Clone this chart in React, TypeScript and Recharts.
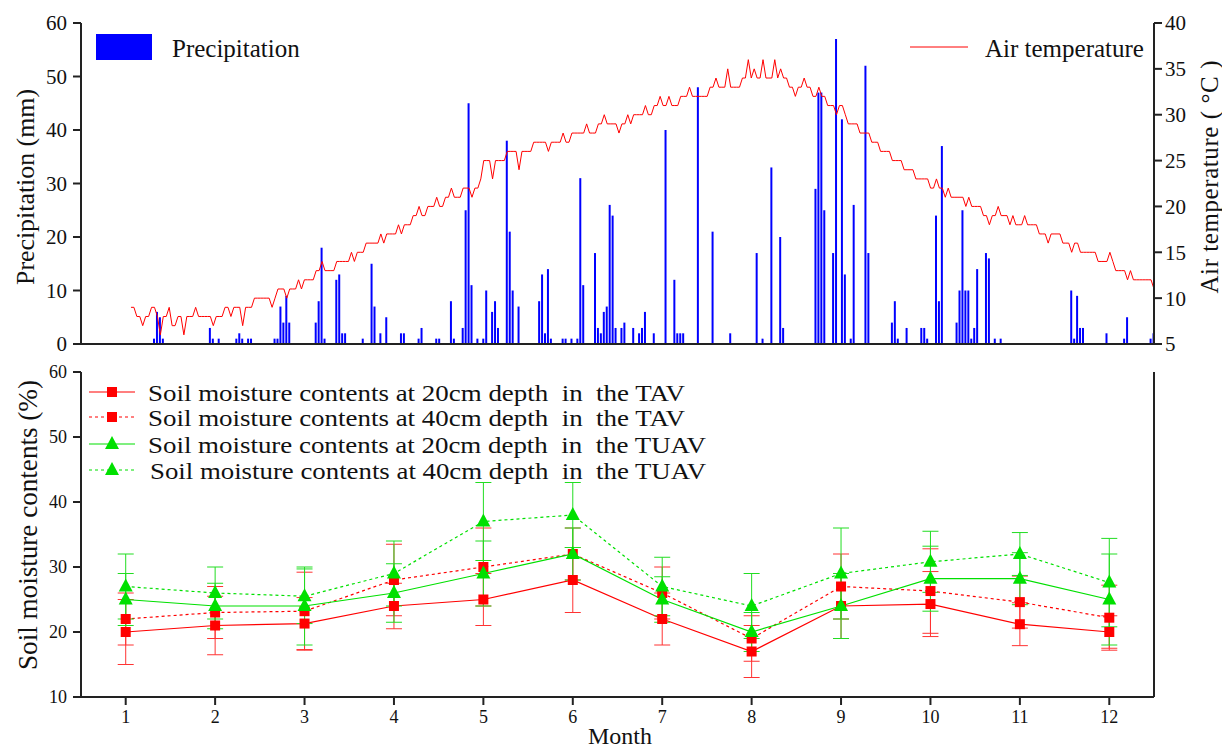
import React from 'react';
import { ComposedChart, Bar, Line, XAxis, YAxis, Legend, ErrorBar } from 'recharts';

const FONT = '"Liberation Serif", "Times New Roman", serif';
const AXIS = '#222';

// ---------- Top panel data ----------
const tempStartDay = 17;
const airTemp = [
  9, 9, 8, 8, 7, 8, 8, 9, 9, 8,
  6, 8, 8, 9, 7, 7, 8, 8, 6, 8,
  8, 8, 9, 8, 8, 8, 8, 8, 7, 8,
  8, 8, 9, 9, 8, 9, 9, 9, 7, 9,
  9, 9, 10, 10, 10, 10, 10, 10, 9, 10,
  11, 11, 11, 10, 11, 11, 11, 12, 11, 12,
  12, 12, 12, 13, 13, 14, 13, 13, 13, 13,
  14, 14, 14, 14, 14, 15, 14, 15, 15, 15,
  16, 16, 16, 16, 16, 17, 16, 17, 17, 17,
  17, 18, 17, 18, 18, 18, 19, 19, 20, 19,
  19, 20, 20, 20, 21, 20, 20, 21, 21, 22,
  21, 21, 21, 22, 22, 22, 21, 22, 22, 23,
  25, 25, 25, 23, 25, 25, 25, 25, 26, 26,
  26, 26, 24, 26, 26, 26, 26, 27, 27, 27,
  27, 27, 26, 27, 27, 27, 27, 28, 27, 27,
  28, 28, 28, 28, 28, 29, 28, 28, 28, 29,
  29, 30, 29, 29, 29, 29, 28, 29, 29, 30,
  29, 30, 30, 30, 30, 31, 30, 30, 31, 31,
  32, 31, 31, 32, 31, 31, 31, 32, 32, 32,
  33, 32, 32, 32, 32, 32, 32, 33, 33, 34,
  33, 33, 33, 35, 33, 33, 33, 33, 34, 34,
  36, 34, 35, 34, 34, 36, 34, 34, 34, 36,
  34, 35, 34, 34, 33, 33, 32, 33, 33, 34,
  33, 33, 32, 32, 33, 32, 32, 31, 31, 31,
  30, 31, 31, 30, 29, 29, 29, 29, 28, 28,
  28, 28, 27, 27, 27, 26, 26, 26, 26, 25,
  25, 25, 25, 24, 24, 24, 24, 23, 23, 23,
  23, 23, 22, 22, 23, 22, 22, 21, 22, 21,
  21, 21, 21, 21, 20, 21, 20, 20, 20, 20,
  19, 19, 18, 19, 19, 20, 19, 19, 19, 18,
  19, 18, 18, 18, 19, 18, 18, 18, 18, 17,
  17, 17, 16, 17, 17, 17, 17, 16, 16, 16,
  15, 16, 16, 15, 15, 15, 15, 15, 15, 14,
  14, 14, 14, 15, 14, 13, 13, 13, 13, 12,
  13, 12, 12, 12, 12, 12, 12, 12, 11,
];

const precipDays = [
  25, 26, 27, 28, 44, 45, 47, 53, 54, 55, 57, 58, 66, 67, 68, 69, 70, 71,
  80, 81, 82, 83, 87, 88, 89, 90, 96, 99, 100, 102, 104, 109, 110, 115, 116,
  121, 122, 126, 127, 130, 131, 132, 133, 135, 137, 138, 140, 141, 142,
  145, 146, 147, 149, 156, 157, 158, 159, 160, 164, 165, 167, 169, 170, 171,
  175, 176, 177, 178, 179, 180, 181, 182, 184, 185, 188, 190, 191, 192, 195,
  199, 202, 203, 204, 205, 210, 215, 221, 230, 232, 235, 238, 239,
  250, 251, 252, 253, 256, 257, 259, 260, 262, 263, 267, 268,
  276, 277, 278, 281, 286, 287, 288, 291, 292, 293,
  298, 299, 300, 301, 302, 303, 304, 305, 308, 309, 311, 313,
  337, 338, 339, 340, 341, 349, 355, 356, 364, 365,
];
const precipMm = [
  1, 6, 5, 1, 3, 1, 1, 1, 2, 1, 1, 1, 1, 1, 7, 4, 9, 4,
  4, 8, 18, 1, 12, 13, 2, 2, 1, 15, 7, 2, 5, 2, 2, 1, 3,
  1, 1, 8, 1, 3, 25, 45, 11, 1, 1, 10, 6, 8, 3,
  38, 21, 10, 7, 8, 13, 2, 14, 1, 1, 1, 1, 1, 31, 11,
  17, 3, 2, 6, 7, 26, 24, 3, 3, 4, 3, 2, 3, 6, 2,
  40, 12, 2, 2, 2, 48, 21, 2, 17, 1, 33, 20, 3,
  29, 47, 47, 25, 17, 57, 42, 13, 1, 26, 52, 17,
  4, 8, 1, 3, 3, 3, 1, 24, 8, 37,
  4, 10, 25, 10, 10, 1, 3, 14, 17, 16, 1, 1,
  10, 1, 9, 3, 3, 2, 1, 5, 1, 2,
];

const monthTickDays = [15.2, 45.6, 76.0, 106.5, 136.9, 167.3, 197.7, 228.1, 258.5, 288.9, 319.4, 349.8];
const precipTicks = [0, 10, 20, 30, 40, 50, 60];
const tempTicks = [5, 10, 15, 20, 25, 30, 35, 40];

const topData = Array.from({ length: 365 }, (_, i) => {
  const day = i + 1;
  const pi = precipDays.indexOf(day);
  const ti = day - tempStartDay;
  return {
    day,
    precip: pi >= 0 ? precipMm[pi] : 0,
    temp: ti >= 0 && ti < airTemp.length ? airTemp[ti] : null,
  };
});

// ---------- Bottom panel data ----------
const months = [1, 2, 3, 4, 5, 6, 7, 8, 9, 10, 11, 12];
const tav20 = [20, 21, 21.3, 24, 25, 28, 22, 17, 24, 24.3, 21.2, 20];
const tav20Err = [5, 4.5, 4, 3.5, 4, 5, 4, 4, 5, 5, 3.3, 2.5];
const tav40 = [22, 23, 23.2, 28, 30, 32, 26, 19, 27, 26.3, 24.6, 22.2];
const tav40Err = [4, 4, 6, 5.5, 6, 4, 4, 3.5, 5, 6.5, 4, 5];
const tuav20 = [25, 24, 24, 26, 29, 32, 25, 20, 24, 28.2, 28.2, 25];
const tuav20Err = [4, 3.5, 6, 4.5, 5, 4, 3.5, 3, 5, 5, 4, 7];
const tuav40 = [27, 26, 25.5, 29, 37, 38, 27, 24, 29, 30.8, 32, 27.6];
const tuav40Err = [5, 4, 4.2, 5, 6, 5, 4.5, 5, 7, 4.7, 3.3, 6.8];
const moistureTicks = [10, 20, 30, 40, 50, 60];
const legendLabels = [
  'Soil moisture contents at 20cm depth  in  the TAV',
  'Soil moisture contents at 40cm depth  in  the TAV',
  'Soil moisture contents at 20cm depth  in  the TUAV',
  'Soil moisture contents at 40cm depth  in  the TUAV',
];

const bottomData = months.map((m, i) => ({
  month: m,
  tav20: tav20[i], tav20e: tav20Err[i],
  tav40: tav40[i], tav40e: tav40Err[i],
  tuav20: tuav20[i], tuav20e: tuav20Err[i],
  tuav40: tuav40[i], tuav40e: tuav40Err[i],
}));

const RED = '#ff0000';
const GREEN = '#00e000';

const squareDot = (color: string) => (props: any) => {
  const { cx, cy, index } = props;
  if (cx == null || cy == null) return <g key={`s${index}`} />;
  return <rect key={`s${index}`} x={cx - 5} y={cy - 5} width={10} height={10} fill={color} />;
};
const triDot = (color: string) => (props: any) => {
  const { cx, cy, index } = props;
  if (cx == null || cy == null) return <g key={`t${index}`} />;
  return (
    <polygon
      key={`t${index}`}
      points={`${cx},${cy - 8} ${cx - 7},${cy + 5} ${cx + 7},${cy + 5}`}
      fill={color}
    />
  );
};

const topTickStyle = { fontSize: 21, fill: '#111', fontFamily: FONT };
const bottomTickStyle = { fontSize: 18, fill: '#111', fontFamily: FONT };
const axisLineStyle = { stroke: AXIS, strokeWidth: 2 };

const TopLegend = () => (
  <svg width={1070} height={30} style={{ overflow: 'visible', display: 'block' }}>
    <rect x={0} y={0} width={56} height={26} fill="#0000ff" />
    <text x={76} y={14} dominantBaseline="central" fontSize={25} fontFamily={FONT} fill="#111">
      Precipitation
    </text>
    <line x1={814} x2={872} y1={13} y2={13} stroke={RED} strokeWidth={1} />
    <text x={889} y={14} dominantBaseline="central" fontSize={25} fontFamily={FONT} fill="#111">
      Air temperature
    </text>
  </svg>
);

const legendRows = [
  { y: 14, color: RED, dash: undefined, shape: 'sq', tx: 59, len: 537 },
  { y: 39, color: RED, dash: '3 3', shape: 'sq', tx: 59, len: 537 },
  { y: 66, color: GREEN, dash: undefined, shape: 'tri', tx: 59, len: 558 },
  { y: 92, color: GREEN, dash: '3 3', shape: 'tri', tx: 61, len: 556 },
];

const SoilLegend = () => (
  <svg width={660} height={110} style={{ overflow: 'visible', display: 'block' }}>
    {legendRows.map((r, i) => (
      <g key={i}>
        <line x1={0} x2={46} y1={r.y} y2={r.y} stroke={r.color} strokeWidth={1.2} strokeDasharray={r.dash} />
        {r.shape === 'sq' ? (
          <rect x={18} y={r.y - 5} width={10} height={10} fill={r.color} />
        ) : (
          <polygon points={`23,${r.y - 8} 16,${r.y + 5} 30,${r.y + 5}`} fill={r.color} />
        )}
        <text
          x={r.tx}
          y={r.y + 1}
          dominantBaseline="central"
          fontSize={24}
          fontFamily={FONT}
          fill="#111"
          textLength={r.len}
          lengthAdjust="spacingAndGlyphs"
          style={{ whiteSpace: 'pre' }}
        >
          {legendLabels[i]}
        </text>
      </g>
    ))}
  </svg>
);

export default function App() {
  return (
    <div style={{ position: 'absolute', left: 0, top: 0, width: 1222, height: 748, background: '#fff', overflow: 'hidden' }}>
      <div style={{ position: 'absolute', left: 0, top: 0 }}>
        <ComposedChart width={1222} height={360} data={topData} margin={{ top: 23, right: 0, bottom: 0, left: 0 }}>
          <XAxis
            xAxisId="b"
            dataKey="day"
            type="number"
            domain={[0, 365]}
            ticks={monthTickDays}
            tick={false}
            tickSize={10}
            height={16}
            axisLine={axisLineStyle}
            tickLine={axisLineStyle}
            allowDataOverflow
          />
          <XAxis
            xAxisId="top"
            orientation="top"
            type="number"
            domain={[0, 1]}
            tick={false}
            tickLine={false}
            height={0}
            axisLine={axisLineStyle}
          />
          <YAxis
            yAxisId="p"
            domain={[0, 60]}
            ticks={precipTicks}
            width={81}
            tickSize={8}
            tickMargin={6}
            tick={topTickStyle}
            axisLine={axisLineStyle}
            tickLine={axisLineStyle}
          />
          <YAxis
            yAxisId="t"
            orientation="right"
            domain={[5, 40]}
            ticks={tempTicks}
            width={68}
            tickSize={8}
            tickMargin={3}
            tick={topTickStyle}
            axisLine={axisLineStyle}
            tickLine={axisLineStyle}
          />
          <Bar xAxisId="b" yAxisId="p" dataKey="precip" fill="#0000ff" barSize={2} isAnimationActive={false} />
          <Line
            xAxisId="b"
            yAxisId="t"
            dataKey="temp"
            type="linear"
            stroke={RED}
            strokeWidth={1}
            dot={false}
            activeDot={false}
            isAnimationActive={false}
          />
          <Legend
            layout="vertical"
            align="center"
            verticalAlign="middle"
            content={() => <TopLegend />}
            wrapperStyle={{ left: 96, top: 34, width: 1070, height: 30 }}
          />
          <text
            x={25}
            y={187}
            transform="rotate(-90 25 187)"
            textAnchor="middle"
            dominantBaseline="central"
            fontSize={25}
            fontFamily={FONT}
            fill="#111"
            textLength={196}
            lengthAdjust="spacingAndGlyphs"
          >
            Precipitation (mm)
          </text>
          <text
            x={1209}
            y={177}
            transform="rotate(-90 1209 177)"
            textAnchor="middle"
            dominantBaseline="central"
            fontSize={25}
            fontFamily={FONT}
            fill="#111"
            textLength={233}
            lengthAdjust="spacing"
            style={{ whiteSpace: 'pre' }}
          >
            Air temperature ( °C )
          </text>
        </ComposedChart>
      </div>
      <div style={{ position: 'absolute', left: 0, top: 360 }}>
        <ComposedChart width={1222} height={388} data={bottomData} margin={{ top: 12, right: 0, bottom: 0, left: 0 }}>
          <XAxis
            xAxisId="m"
            dataKey="month"
            type="number"
            domain={[0.5, 12.5]}
            ticks={months}
            tickSize={8}
            tickMargin={5}
            tick={bottomTickStyle}
            height={51}
            axisLine={axisLineStyle}
            tickLine={axisLineStyle}
          />
          <XAxis
            xAxisId="top"
            orientation="top"
            type="number"
            domain={[0, 1]}
            tick={false}
            tickLine={false}
            height={0}
            axisLine={axisLineStyle}
          />
          <YAxis
            yAxisId="s"
            domain={[10, 60]}
            ticks={moistureTicks}
            width={81}
            tickSize={8}
            tickMargin={6}
            tick={bottomTickStyle}
            axisLine={axisLineStyle}
            tickLine={axisLineStyle}
          />
          <YAxis
            yAxisId="r"
            orientation="right"
            domain={[0, 1]}
            width={68}
            tick={false}
            tickLine={false}
            axisLine={axisLineStyle}
          />
          <Line xAxisId="m" yAxisId="s" dataKey="tav20" stroke={RED} strokeWidth={1.2} dot={squareDot(RED)} activeDot={false} isAnimationActive={false}>
            <ErrorBar dataKey="tav20e" width={8} stroke="#ff3333" strokeWidth={1} direction="y" />
          </Line>
          <Line xAxisId="m" yAxisId="s" dataKey="tav40" stroke={RED} strokeWidth={1.2} strokeDasharray="3 3" dot={squareDot(RED)} activeDot={false} isAnimationActive={false}>
            <ErrorBar dataKey="tav40e" width={8} stroke="#ff3333" strokeWidth={1} direction="y" />
          </Line>
          <Line xAxisId="m" yAxisId="s" dataKey="tuav20" stroke={GREEN} strokeWidth={1.2} dot={triDot(GREEN)} activeDot={false} isAnimationActive={false}>
            <ErrorBar dataKey="tuav20e" width={8} stroke="#22dd22" strokeWidth={1} direction="y" />
          </Line>
          <Line xAxisId="m" yAxisId="s" dataKey="tuav40" stroke={GREEN} strokeWidth={1.2} strokeDasharray="3 3" dot={triDot(GREEN)} activeDot={false} isAnimationActive={false}>
            <ErrorBar dataKey="tuav40e" width={8} stroke="#22dd22" strokeWidth={1} direction="y" />
          </Line>
          <Legend
            layout="vertical"
            align="center"
            verticalAlign="middle"
            content={() => <SoilLegend />}
            wrapperStyle={{ left: 89, top: 18, width: 660, height: 110 }}
          />
          <text
            x={28}
            y={165}
            transform="rotate(-90 28 165)"
            textAnchor="middle"
            dominantBaseline="central"
            fontSize={27}
            fontFamily={FONT}
            fill="#111"
            textLength={290}
            lengthAdjust="spacingAndGlyphs"
          >
            Soil moisture contents (%)
          </text>
          <text x={620} y={384} textAnchor="middle" fontSize={24} fontFamily={FONT} fill="#111">
            Month
          </text>
        </ComposedChart>
      </div>
    </div>
  );
}
